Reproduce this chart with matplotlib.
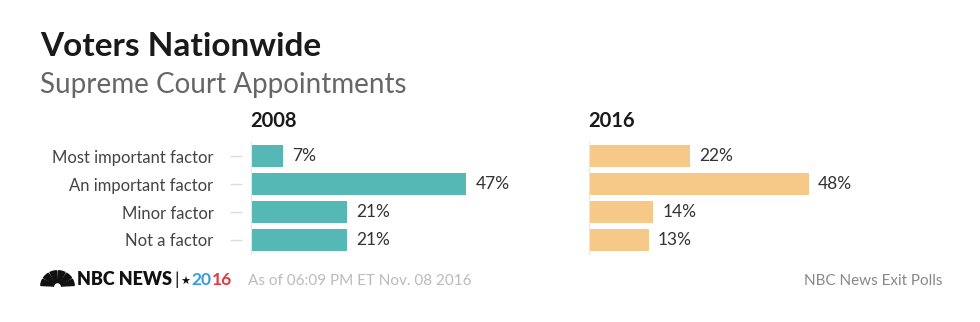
import matplotlib
matplotlib.use("Agg")
import matplotlib.pyplot as plt
from matplotlib.patches import Wedge

plt.rcParams['font.family'] = ['Lato', 'DejaVu Sans']

# data
categories = ["Most important factor", "An important factor", "Minor factor", "Not a factor"]
vals_2008 = [7, 47, 21, 21]
vals_2016 = [22, 48, 14, 13]
years = ["2008", "2016"]
colors = ["#56B8B4", "#F7C988"]

W, H = 980, 322


def fx(x):
    return x / W


def fy(y):
    return 1 - y / H


fig = plt.figure(figsize=(W / 100, H / 100), dpi=100)
fig.patch.set_facecolor("white")

# titles
fig.text(fx(40), fy(56), "Voters Nationwide", fontsize=24, fontweight="bold",
         color="#1a1a1a", va="baseline")
fig.text(fx(40), fy(93), "Supreme Court Appointments", fontsize=20,
         color="#666666", va="baseline")

# panels: left edge of bars in pixels
panel_x = [251, 589]
ax_w = 229  # px, about 4.58 px per percent
top, bot = 142, 254

for i, (vals, year, col) in enumerate(zip([vals_2008, vals_2016], years, colors)):
    ax = fig.add_axes([fx(panel_x[i]), fy(bot), ax_w / W, (bot - top) / H])
    y = range(len(categories))
    ax.barh(y, vals, height=0.79, color=col, edgecolor="none")
    ax.set_xlim(0, 50)
    ax.set_ylim(len(categories) - 0.5, -0.5)
    for yy, v in zip(y, vals):
        ax.text(v + 2.0, yy, f"{v}%", va="center", ha="left", fontsize=12.5,
                color="#333333")
    for s in ["top", "right", "bottom"]:
        ax.spines[s].set_visible(False)
    ax.spines["left"].set_color("#e6e6e6")
    ax.spines["left"].set_linewidth(0.8)
    ax.set_xticks([])
    ax.set_yticks(list(y))
    if i == 0:
        ax.set_yticklabels(categories, fontsize=12, color="#444444")
        ax.tick_params(axis="y", length=0, pad=27)
        # small dashes left of the axis
        ax.hlines(list(y), -21 / ax_w * 50, -9 / ax_w * 50, color="#dddddd",
                  linewidth=1, clip_on=False)
    else:
        ax.set_yticklabels([])
        ax.tick_params(axis="y", length=0)
    ax.patch.set_alpha(0)
    fig.text(fx(panel_x[i] - 1), fy(127), year, fontsize=14.5, fontweight="bold",
             color="#1a1a1a", va="baseline")

# footer: peacock logo
lax = fig.add_axes([fx(40), fy(287), 35 / W, 17 / H])
lax.set_xlim(-1.1, 1.1)
lax.set_ylim(-0.05, 1.1)
lax.axis("off")
for k in range(6):
    a0 = 180 - k * 30
    lax.add_patch(Wedge((0, 0), 1.05, a0 - 27, a0 - 3, width=0.8, color="#111111"))

# footer text pieces laid out one after another
base = 285
renderer = fig.canvas.get_renderer()
pieces = [("NBC NEWS", dict(fontsize=13, fontweight="heavy", color="#111111"), 2),
          ("|", dict(fontsize=13, color="#111111"), 2),
          ("★", dict(fontsize=8, color="#111111", family=["DejaVu Sans"]), 1),
          ("20", dict(fontsize=12.5, fontweight="bold", color="#3A9BD8"), 0),
          ("16", dict(fontsize=12.5, fontweight="bold", color="#E2393E"), 0)]
x = 77
for txt, kw, gap in pieces:
    t = fig.text(fx(x), fy(base), txt, va="baseline", **kw)
    bb = t.get_window_extent(renderer)
    x += bb.width + gap

fig.text(fx(248), fy(base), "As of 06:09 PM ET Nov. 08 2016", fontsize=11,
         color="#bbbbbb", va="baseline")
fig.text(fx(942), fy(base), "NBC News Exit Polls", fontsize=11,
         color="#888888", va="baseline", ha="right")

fig.savefig("out.png", dpi=100, facecolor="white")
